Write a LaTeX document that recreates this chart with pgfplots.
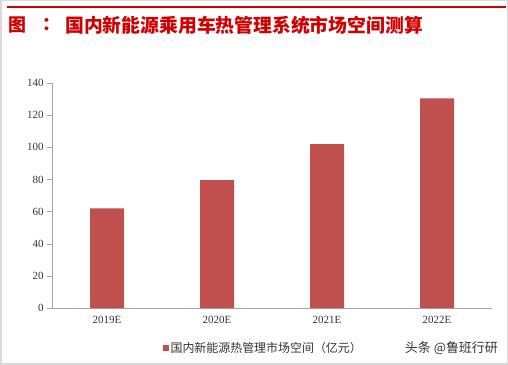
\documentclass[border=0pt]{standalone}
\usepackage{pgfplots}
\pgfplotsset{compat=1.18}
\usepackage{fontspec}
\setmainfont{Liberation Serif}
\newfontfamily\cjk{Noto Sans CJK SC}
\definecolor{barred}{HTML}{C0504D}
\definecolor{titlered}{HTML}{D00000}
\definecolor{axgray}{HTML}{A6A6A6}
\begin{document}
\begin{tikzpicture}[x=1bp,y=1bp]
\useasboundingbox (0,0) rectangle (508,364);
\fill[white] (0,0) rectangle (508,364);
\draw[gray!30, line width=3bp] (0,0) rectangle (508,364);
\draw[titlered, line width=2bp] (7,357) -- (506,357);
\node[anchor=west, text=titlered, font=\cjk\bfseries\fontsize{18}{18}\selectfont, inner sep=0] at (8,339) {图};
\node[anchor=center, text=titlered, font=\cjk\bfseries\fontsize{18}{18}\selectfont, inner sep=0] at (51,339) {：};
\node[anchor=west, text=titlered, font=\cjk\bfseries\fontsize{18.9}{18.9}\selectfont, inner sep=0] at (65,339) {国内新能源乘用车热管理系统市场空间测算};
\begin{axis}[
  at={(52bp,56bp)}, anchor=south west,
  scale only axis, width=440bp, height=225bp,
  xmin=-0.5, xmax=3.5, ymin=0, ymax=140,
  ytick={0,20,...,140},
  xtick={0,1,2,3},
  xticklabels={2019E,2020E,2021E,2022E},
  major x tick style={draw=none},
  extra x ticks={-0.5,0.5,1.5,2.5,3.5},
  extra x tick labels={},
  extra x tick style={major tick length=5bp, tick style={axgray}},
  axis x line*=bottom, axis y line*=left,
  axis line style={axgray},
  tick align=outside,
  major tick length=5bp,
  ytick style={axgray},
  tick label style={font=\fontsize{11}{11}\selectfont, text=black!80},
  /pgf/number format/assume math mode=true,
  ybar, bar width=34bp,
  legend style={at={(0.48,-0.178)}, anchor=center, draw=none, fill=none,
    font=\cjk\fontsize{12}{12}\selectfont, text=black!80},
  legend image code/.code={\fill[barred] (0bp,-3bp) rectangle (6bp,3bp);},
]
\addplot[fill=barred, draw=none] coordinates {(0,62) (1,79.5) (2,102) (3,130.5)};
\addlegendentry{国内新能源热管理市场空间（亿元）}
\end{axis}
\node[anchor=east, font=\cjk\fontsize{13}{13}\selectfont, text=black!80, inner sep=0] at (498,16) {头条 @鲁班行研};
\end{tikzpicture}
\end{document}
